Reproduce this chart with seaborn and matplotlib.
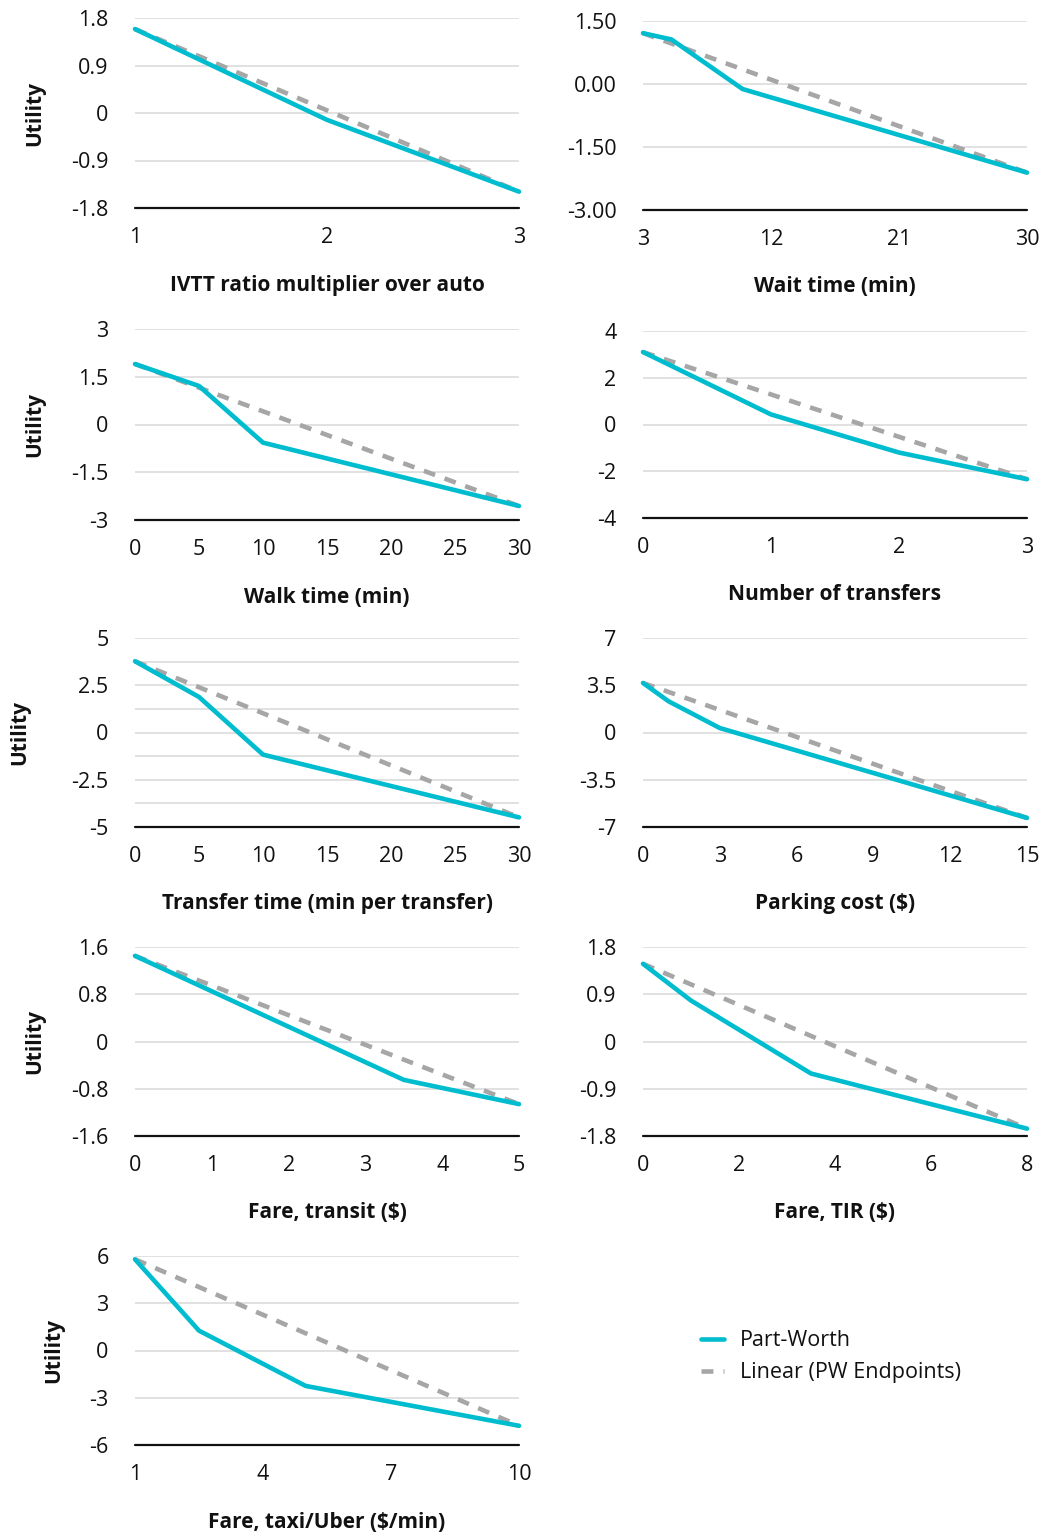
import matplotlib
matplotlib.use("Agg")
import matplotlib.pyplot as plt
import seaborn as sns
import pandas as pd

# ---------------- data ----------------
ivtt_x = [1, 2, 3]
ivtt_pw = [1.59, -0.13, -1.49]

wait_x = [3, 5, 10, 30]
wait_pw = [1.21, 1.06, -0.12, -2.11]

walk_x = [0, 5, 10, 30]
walk_pw = [1.90, 1.21, -0.57, -2.56]

transfers_x = [0, 1, 2, 3]
transfers_pw = [3.10, 0.43, -1.20, -2.34]

xfer_time_x = [0, 5, 10, 30]
xfer_time_pw = [3.77, 1.88, -1.17, -4.49]

parking_x = [0, 1, 3, 15]
parking_pw = [3.67, 2.31, 0.33, -6.33]

transit_x = [0, 3.5, 5]
transit_pw = [1.45, -0.65, -1.06]

tir_x = [0, 1, 3.5, 8]
tir_pw = [1.48, 0.78, -0.61, -1.66]

taxi_x = [1, 2.5, 5, 10]
taxi_pw = [5.79, 1.26, -2.25, -4.78]

titles = ["IVTT ratio multiplier over auto", "Wait time (min)", "Walk time (min)",
          "Number of transfers", "Transfer time (min per transfer)", "Parking cost ($)",
          "Fare, transit ($)", "Fare, TIR ($)", "Fare, taxi/Uber ($/min)"]

xticks = [[1, 2, 3], [3, 12, 21, 30], [0, 5, 10, 15, 20, 25, 30], [0, 1, 2, 3],
          [0, 5, 10, 15, 20, 25, 30], [0, 3, 6, 9, 12, 15], [0, 1, 2, 3, 4, 5],
          [0, 2, 4, 6, 8], [1, 4, 7, 10]]

yticks = [[1.8, 0.9, 0, -0.9, -1.8], [1.5, 0, -1.5, -3.0], [3, 1.5, 0, -1.5, -3],
          [4, 2, 0, -2, -4], [5, 2.5, 0, -2.5, -5], [7, 3.5, 0, -3.5, -7],
          [1.6, 0.8, 0, -0.8, -1.6], [1.8, 0.9, 0, -0.9, -1.8], [6, 3, 0, -3, -6]]
ytick_labels = [["1.8", "0.9", "0", "-0.9", "-1.8"], ["1.50", "0.00", "-1.50", "-3.00"],
                ["3", "1.5", "0", "-1.5", "-3"], ["4", "2", "0", "-2", "-4"],
                ["5", "2.5", "0", "-2.5", "-5"], ["7", "3.5", "0", "-3.5", "-7"],
                ["1.6", "0.8", "0", "-0.8", "-1.6"], ["1.8", "0.9", "0", "-0.9", "-1.8"],
                ["6", "3", "0", "-3", "-6"]]
minor_grid = {4: [3.75, 1.25, -1.25, -3.75]}

series_x = [ivtt_x, wait_x, walk_x, transfers_x, xfer_time_x, parking_x, transit_x, tir_x, taxi_x]
series_pw = [ivtt_pw, wait_pw, walk_pw, transfers_pw, xfer_time_pw, parking_pw, transit_pw, tir_pw, taxi_pw]
has_ylabel = [True, False, True, False, True, False, True, False, True]

# ---------------- style ----------------
sns.set_theme(style="white")
plt.rcParams["font.family"] = ["Open Sans", "DejaVu Sans"]
plt.rcParams["text.color"] = "#111111"
plt.rcParams["axes.labelcolor"] = "#111111"
plt.rcParams["xtick.color"] = "#111111"
plt.rcParams["ytick.color"] = "#111111"

PW_COLOR = "#00BCCF"
LIN_COLOR = "#A6A6A6"
FS = 15.5

W, H = 1046, 1536
fig = plt.figure(figsize=(W / 100, H / 100), dpi=100)

# panel pixel boxes: (left, top, right, bottom)
boxes = [(135, 18, 519, 208), (643, 21, 1027, 210),
         (135, 329, 519, 520), (643, 331, 1027, 518),
         (135, 638, 519, 827), (643, 638, 1027, 827),
         (135, 947, 519, 1136), (643, 947, 1027, 1136),
         (135, 1256, 519, 1445)]
ylabel_x = [-0.234, None, -0.234, None, -0.273, None, -0.234, None, -0.185]

handles = None
for i in range(9):
    l, t, r, b = boxes[i]
    ax = fig.add_axes([l / W, 1 - b / H, (r - l) / W, (b - t) / H])
    xs, pw = series_x[i], series_pw[i]
    df_pw = pd.DataFrame({"x": xs, "y": pw})
    df_lin = pd.DataFrame({"x": [xs[0], xs[-1]], "y": [pw[0], pw[-1]]})

    ymin, ymax = min(yticks[i]), max(yticks[i])
    for g in yticks[i]:
        if g != ymin:
            ax.axhline(g, color="#D9D9D9", lw=1.1, zorder=0)
    for g in minor_grid.get(i, []):
        ax.axhline(g, color="#D9D9D9", lw=1.1, zorder=0)
    ax.axhline(ymin, color="#111111", lw=1.6, zorder=1, clip_on=False)

    sns.lineplot(data=df_lin, x="x", y="y", ax=ax, color=LIN_COLOR, lw=3.3,
                 label="Linear (PW Endpoints)", legend=False)
    sns.lineplot(data=df_pw, x="x", y="y", ax=ax, color=PW_COLOR, lw=3.3,
                 label="Part-Worth", legend=False)
    lines = ax.get_lines()
    lin_line, pw_line = lines[-2], lines[-1]
    lin_line.set_dashes([2.6, 2.2])
    lin_line.set_dash_capstyle("butt")
    for ln in (lin_line, pw_line):
        ln.set_clip_on(False)
    lin_line.set_zorder(3)
    pw_line.set_zorder(4)

    ax.set_xlim(xticks[i][0], xticks[i][-1])
    ax.set_ylim(ymin, ymax)
    ax.set_xticks(xticks[i])
    ax.set_xticklabels([str(v) for v in xticks[i]])
    ax.set_yticks(yticks[i])
    ax.set_yticklabels(ytick_labels[i])
    ax.tick_params(axis="x", length=0, pad=14, labelsize=FS)
    ax.tick_params(axis="y", length=0, pad=19, labelsize=FS)
    for s in ax.spines.values():
        s.set_visible(False)

    ax.set_xlabel(titles[i], fontsize=15, fontweight="bold", va="center")
    ax.xaxis.set_label_coords(0.5, -77 / (b - t))
    if has_ylabel[i]:
        ax.set_ylabel("Utility", fontsize=15, fontweight="bold")
        ax.yaxis.set_label_coords(ylabel_x[i], 0.5)
    else:
        ax.set_ylabel("")
    if i == 0:
        handles = [pw_line, lin_line]

leg = fig.legend(handles, ["Part-Worth", "Linear (PW Endpoints)"],
                 loc="upper left", bbox_to_anchor=(682 / W, 1 - 1311 / H),
                 frameon=False, fontsize=FS, handlelength=1.05,
                 handletextpad=0.75, labelspacing=0.5)

fig.savefig("out.png", dpi=100)
